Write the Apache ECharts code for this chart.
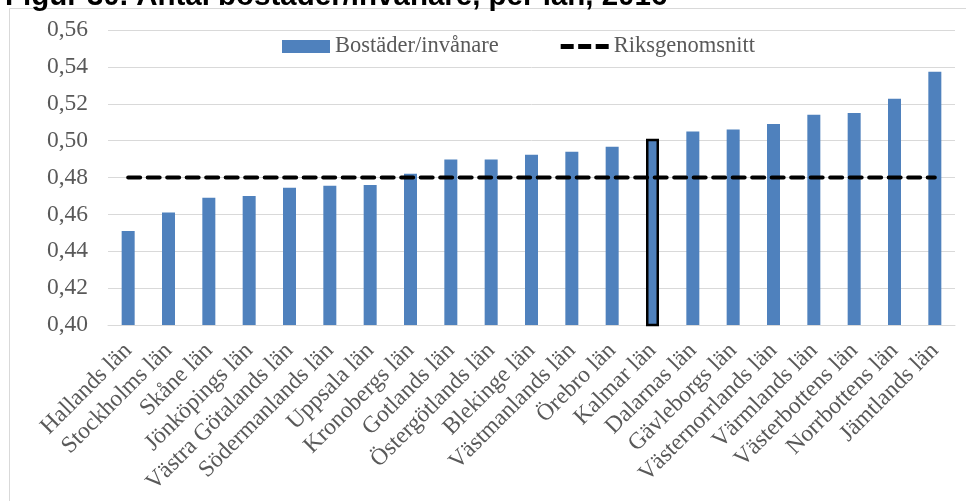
<!DOCTYPE html>
<html>
<head>
<meta charset="utf-8">
<style>
  html, body { margin: 0; padding: 0; background: #ffffff; }
  #chart { width: 966px; height: 501px; }
</style>
<script src="https://cdn.jsdelivr.net/npm/echarts@6/dist/echarts.min.js"></script>
</head>
<body>
<div id="chart"></div>
<script>
// Counties (län), sorted by dwellings per inhabitant
const counties = [
  'Hallands län', 'Stockholms län', 'Skåne län', 'Jönköpings län',
  'Västra Götalands län', 'Södermanlands län', 'Uppsala län', 'Kronobergs län',
  'Gotlands län', 'Östergötlands län', 'Blekinge län', 'Västmanlands län',
  'Örebro län', 'Kalmar län', 'Dalarnas län', 'Gävleborgs län',
  'Västernorrlands län', 'Värmlands län', 'Västerbottens län', 'Norrbottens län',
  'Jämtlands län'
];

// Dwellings per inhabitant
const dwellingsPerInhabitant = [
  0.451, 0.461, 0.469, 0.470, 0.4745, 0.4755, 0.476, 0.482,
  0.4897, 0.4897, 0.4924, 0.494, 0.4967, 0.501, 0.505, 0.506,
  0.509, 0.514, 0.515, 0.5227, 0.5374
];

// National average
const nationalAverage = 0.48;

const highlighted = 'Kalmar län';

const yTicks = { min: 0.40, max: 0.56, interval: 0.02 };

const serif = '"Liberation Serif", "Times New Roman", serif';
const labelColor = '#595959';

// three short bars, used as the legend icon of the dashed average line
const dashIcon = 'path://M0,0h13v5h-13z M17.5,0h13v5h-13z M35,0h13v5h-13z';

const chart = echarts.init(document.getElementById('chart'));

chart.setOption({
  animation: false,
  title: {
    text: 'Figur 30. Antal bostäder/invånare, per län, 2016',
    left: 0,
    top: -23,
    textStyle: {
      fontFamily: '"Liberation Sans", Arial, sans-serif',
      fontWeight: 'bold',
      fontSize: 29.5,
      color: '#000000'
    }
  },
  graphic: [{
    type: 'rect',
    shape: { x: 9.5, y: 8.5, width: 1200, height: 800 },
    style: { fill: 'none', stroke: '#d9d9d9', lineWidth: 1 },
    silent: true,
    z: -1
  }],
  legend: {
    top: 30,
    left: 277,
    itemGap: 62,
    itemWidth: 48,
    itemHeight: 13,
    textStyle: { fontFamily: serif, fontSize: 22.5, color: labelColor },
    data: [
      { name: 'Bostäder/invånare', icon: 'rect' },
      { name: 'Riksgenomsnitt', icon: dashIcon, itemStyle: { color: '#000000' } }
    ]
  },
  grid: { left: 108, right: 11, top: 30, bottom: 176, containLabel: false },
  xAxis: {
    type: 'category',
    data: counties,
    axisLine: { lineStyle: { color: '#d9d9d9', width: 1 } },
    axisTick: { show: false },
    axisLabel: {
      rotate: 45,
      interval: 0,
      margin: 22,
      fontFamily: serif,
      fontSize: 23.5,
      color: labelColor
    }
  },
  yAxis: {
    type: 'value',
    min: yTicks.min,
    max: yTicks.max,
    interval: yTicks.interval,
    axisLine: { show: false },
    axisTick: { show: false },
    splitLine: { lineStyle: { color: '#d9d9d9', width: 1 } },
    axisLabel: {
      margin: 20,
      fontFamily: serif,
      fontSize: 23.5,
      color: labelColor,
      formatter: v => v.toFixed(2).replace('.', ',')
    }
  },
  series: [
    {
      name: 'Bostäder/invånare',
      type: 'bar',
      barWidth: 13,
      itemStyle: { color: '#4f81bd' },
      data: dwellingsPerInhabitant.map((v, i) => counties[i] === highlighted
        ? { value: v, itemStyle: { borderColor: '#000000', borderWidth: 2.5 } }
        : v)
    },
    {
      name: 'Riksgenomsnitt',
      type: 'line',
      data: counties.map(() => nationalAverage),
      symbol: 'none',
      itemStyle: { color: '#000000' },
      lineStyle: { color: '#000000', width: 4, type: [12, 7.5], cap: 'round' },
      z: 5
    }
  ]
});
</script>
</body>
</html>
